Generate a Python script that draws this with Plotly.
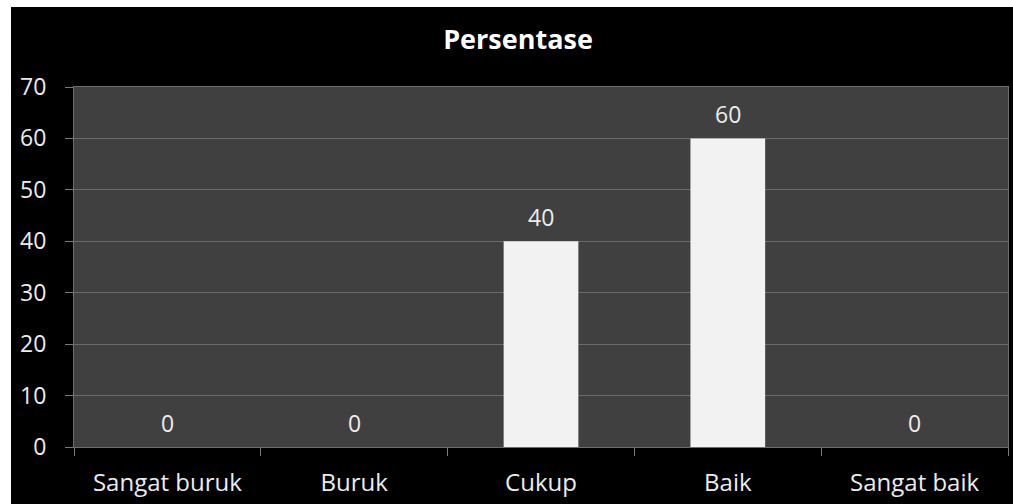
import plotly.graph_objects as go

categories = ["Sangat buruk", "Buruk", "Cukup", "Baik", "Sangat baik"]
values = [0, 0, 40, 60, 0]
y_ticks = [0, 10, 20, 30, 40, 50, 60, 70]
title_text = "Persentase"

W, H = 1013, 504
ml, mr, mt, mb = 74, 5, 87, 57
pw, ph = W - ml - mr, H - mt - mb

def px_x(p):
    return (p - ml) / pw

def px_y(p):
    return (H - mb - p) / ph

FONT = "Open Sans"
TXT = "#ececec"

fig = go.Figure()
fig.add_trace(go.Bar(
    x=categories, y=values,
    marker=dict(color="#f2f2f2", line=dict(width=0)),
    width=0.4,
    hoverinfo="x+y",
))

annotations = [
    dict(x=c, y=v, text=str(v), showarrow=False, xref="x", yref="y",
         yanchor="bottom", yshift=6,
         font=dict(family=FONT, size=23, color=TXT))
    for c, v in zip(categories, values)
]

shapes = [
    dict(type="rect", xref="paper", yref="paper", layer="above",
         x0=px_x(0), x1=px_x(11), y0=px_y(H), y1=px_y(0),
         fillcolor="white", line=dict(width=0)),
    dict(type="rect", xref="paper", yref="paper", layer="above",
         x0=px_x(0), x1=px_x(W), y0=px_y(7), y1=px_y(0),
         fillcolor="white", line=dict(width=0)),
]

fig.update_layout(
    width=W, height=H,
    margin=dict(l=ml, r=mr, t=mt, b=mb, pad=0),
    paper_bgcolor="black",
    plot_bgcolor="#404040",
    showlegend=False,
    title=dict(text=f"<b>{title_text}</b>", x=(518) / W, xanchor="center",
               y=1 - 40 / H, yanchor="middle", yref="container",
               font=dict(family=FONT, size=27, color="white")),
    annotations=annotations,
    shapes=shapes,
    bargap=0.6,
    xaxis=dict(
        type="category",
        showgrid=False,
        tickson="boundaries",
        ticks="outside", ticklen=8, tickcolor="#7a7a7a", tickwidth=1,
        showline=True, linecolor="#6e6e6e", linewidth=1, mirror=True,
        tickfont=dict(family=FONT, size=24, color=TXT),
        ticklabelstandoff=14,
    ),
    yaxis=dict(
        range=[0, 70],
        tickvals=y_ticks,
        showgrid=True, gridcolor="#6a6a6a", gridwidth=1,
        zeroline=False,
        ticks="outside", ticklen=8, tickcolor="#7a7a7a", tickwidth=1,
        showline=True, linecolor="#6e6e6e", linewidth=1, mirror=True,
        tickfont=dict(family=FONT, size=23, color=TXT),
        ticklabelstandoff=14,
    ),
)

fig.write_html("out.html")
